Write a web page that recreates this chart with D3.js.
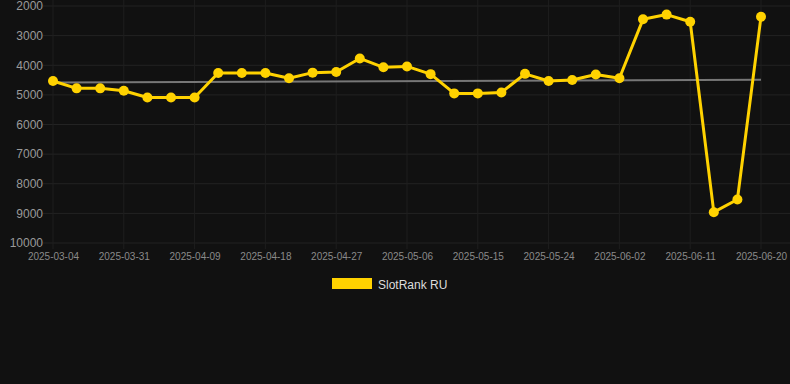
<!DOCTYPE html>
<html lang="en">
  <head>
    <meta charset="utf-8">
    <script type="text/javascript" src="https://d3js.org/d3.v7.min.js"></script>
    <style>
      html, body { margin: 0; padding: 0; background: #111111; }
      svg { display: block; font-family: Arial, "Liberation Sans", sans-serif; }
    </style>
  </head>
  <body>
    <script type="text/javascript">

    // Chart data
    var dates = ["2025-03-04", "2025-03-25", "2025-03-28", "2025-03-31", "2025-04-03", "2025-04-06",
                 "2025-04-09", "2025-04-12", "2025-04-15", "2025-04-18", "2025-04-21", "2025-04-24",
                 "2025-04-27", "2025-04-30", "2025-05-03", "2025-05-06", "2025-05-09", "2025-05-12",
                 "2025-05-15", "2025-05-18", "2025-05-21", "2025-05-24", "2025-05-27", "2025-05-30",
                 "2025-06-02", "2025-06-05", "2025-06-08", "2025-06-11", "2025-06-14", "2025-06-17",
                 "2025-06-20"];
    var ranks = [4530, 4780, 4780, 4860, 5090, 5090, 5090, 4260, 4260, 4260, 4440, 4250,
                 4230, 3770, 4070, 4040, 4300, 4950, 4950, 4920, 4290, 4530, 4500, 4310,
                 4440, 2450, 2290, 2530, 8960, 8530, 2360];
    var trendValues = [4580, 4490]; // grey trend line, first and last date
    var yTicks = [2000, 3000, 4000, 5000, 6000, 7000, 8000, 9000, 10000];
    var seriesName = "SlotRank RU";

    var svgW = 790;
    var svgH = 384;
    var plotLeft = 53, plotRight = 761, plotTop = 6, plotBottom = 243;

    var svg = d3.select("body")
                .append("svg")
                  .attr("width", svgW)
                  .attr("height", svgH);

    var xScale = d3.scalePoint()
                    .domain(dates)
                    .range([plotLeft, plotRight]);

    var yScale = d3.scaleLinear()
                    .domain([2000, 10000])
                    .range([plotTop, plotBottom]);

    var labelDates = dates.filter(function(d, i) { return i % 3 === 0; });

    // Grid lines
    svg.append("g")
        .selectAll("line")
        .data(yTicks)
        .enter()
        .append("line")
          .attr("x1", plotLeft - 10)
          .attr("x2", svgW)
          .attr("y1", function(d) { return yScale(d); })
          .attr("y2", function(d) { return yScale(d); })
          .attr("stroke", "#232323")
          .attr("stroke-width", 1);

    svg.append("g")
        .selectAll("line")
        .data(labelDates)
        .enter()
        .append("line")
          .attr("x1", function(d) { return xScale(d); })
          .attr("x2", function(d) { return xScale(d); })
          .attr("y1", 0)
          .attr("y2", plotBottom + 6)
          .attr("stroke", "#1e1e1e")
          .attr("stroke-width", 1);

    // Y axis labels
    var yAxis = d3.axisLeft(yScale)
                  .tickValues(yTicks)
                  .tickSize(0)
                  .tickPadding(0)
                  .tickFormat(d3.format("d"));
    var yG = svg.append("g")
                .attr("transform", "translate(" + (plotLeft - 10) + ",0)")
                .call(yAxis);
    yG.select(".domain").remove();
    yG.selectAll("text")
        .attr("fill", "#9a9a9a")
        .style("font-size", "12px")
        .style("font-family", "Arial, 'Liberation Sans', sans-serif");

    // X axis labels
    var xAxis = d3.axisBottom(xScale)
                  .tickValues(labelDates)
                  .tickSize(0)
                  .tickPadding(10);
    var xG = svg.append("g")
                .attr("transform", "translate(0," + plotBottom + ")")
                .call(xAxis);
    xG.select(".domain").remove();
    xG.selectAll("text")
        .attr("fill", "#8a8a8a")
        .style("font-size", "10px")
        .style("font-family", "Arial, 'Liberation Sans', sans-serif");

    // Trend line
    svg.append("line")
        .attr("x1", xScale(dates[0]))
        .attr("x2", xScale(dates[dates.length - 1]))
        .attr("y1", yScale(trendValues[0]))
        .attr("y2", yScale(trendValues[1]))
        .attr("stroke", "#777777")
        .attr("stroke-width", 2);

    // Series line and points
    var dataset = dates.map(function(d, i) { return {date: d, rank: ranks[i]}; });

    var line = d3.line()
                  .x(function(d) { return xScale(d.date); })
                  .y(function(d) { return yScale(d.rank); });

    svg.append("path")
        .datum(dataset)
        .attr("d", line)
        .attr("fill", "none")
        .attr("stroke", "#ffd200")
        .attr("stroke-width", 3)
        .attr("stroke-linejoin", "round");

    svg.append("g")
        .selectAll("circle")
        .data(dataset)
        .enter()
        .append("circle")
          .attr("cx", function(d) { return xScale(d.date); })
          .attr("cy", function(d) { return yScale(d.rank); })
          .attr("r", 5)
          .attr("fill", "#ffd200");

    // Legend
    var legend = svg.append("g");
    legend.append("rect")
            .attr("x", 332)
            .attr("y", 278)
            .attr("width", 40)
            .attr("height", 11)
            .attr("fill", "#ffd200");
    legend.append("text")
            .attr("x", 378)
            .attr("y", 289)
            .attr("fill", "#dddddd")
            .style("font-size", "12px")
            .text(seriesName);
    </script>
  </body>
</html>
